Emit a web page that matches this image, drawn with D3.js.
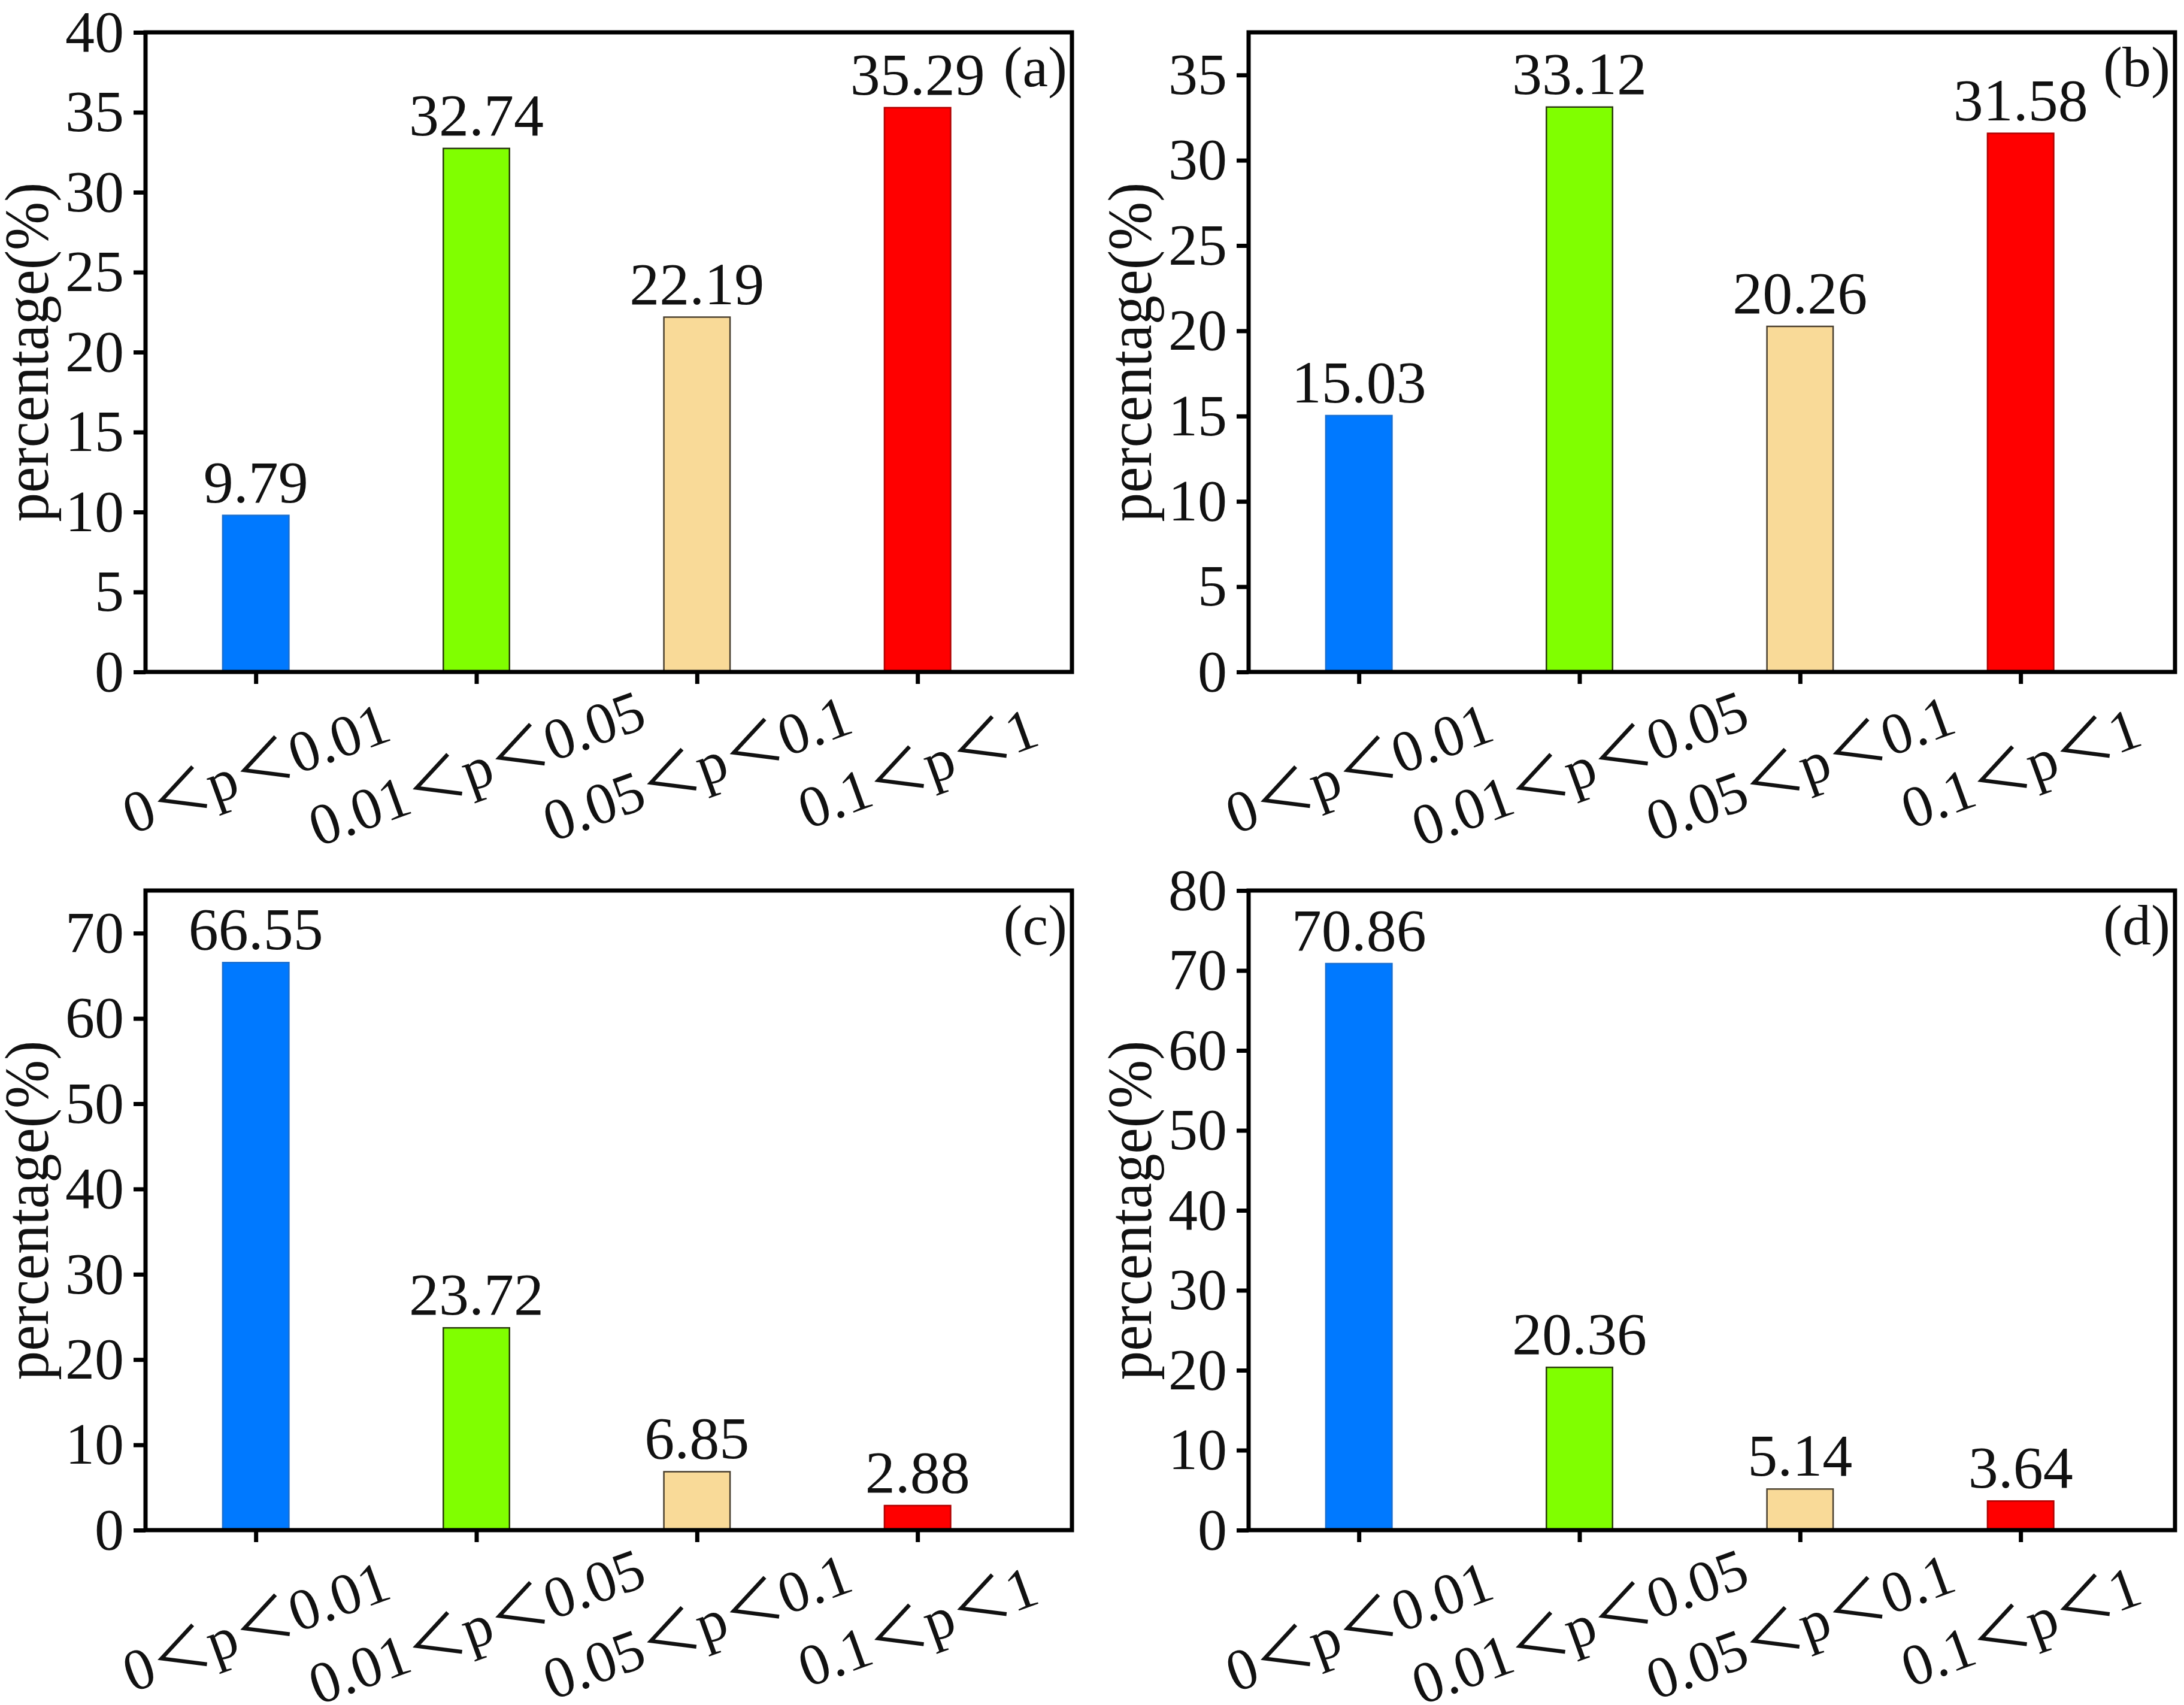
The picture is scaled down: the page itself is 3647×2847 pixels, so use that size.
<!DOCTYPE html>
<html>
<head>
<meta charset="utf-8">
<script src="https://cdn.jsdelivr.net/npm/d3@7"></script>
<style>
  html, body { margin: 0; padding: 0; background: #fff; }
  svg text { font-family: "Liberation Serif", "Noto Sans CJK SC", serif; fill: #111; }
</style>
</head>
<body>
<svg width="3647" height="2847"></svg>
<script>
// categories (p-value classes), one bar each
const categories = ["0＜p＜0.01", "0.01＜p＜0.05", "0.05＜p＜0.1", "0.1＜p＜1"];

// percentage per class for each panel
const valuesA = [9.79, 32.74, 22.19, 35.29];
const valuesB = [15.03, 33.12, 20.26, 31.58];
const valuesC = [66.55, 23.72, 6.85, 2.88];
const valuesD = [70.86, 20.36, 5.14, 3.64];

const panelTags = ["(a)", "(b)", "(c)", "(d)"];
const yMaxes = [40, 37.5, 75, 80];
const yTicksA = [0, 5, 10, 15, 20, 25, 30, 35, 40];
const yTicksB = [0, 5, 10, 15, 20, 25, 30, 35];
const yTicksC = [0, 10, 20, 30, 40, 50, 60, 70];
const yTicksD = [0, 10, 20, 30, 40, 50, 60, 70, 80];

const barColors = ["#0079ff", "#80ff00", "#f9da98", "#ff0000"];
const barStrokes = ["#1a6fd0", "#2a3a10", "#4a4030", "#b00000"];

const svg = d3.select("svg");
svg.append("rect").attr("width", 3647).attr("height", 2847).attr("fill", "#fff");

const plotW = 1547, plotH = 1068;
const panels = [
  {left: 243, top: 54, values: valuesA, ticks: yTicksA},
  {left: 2085, top: 54, values: valuesB, ticks: yTicksB},
  {left: 243, top: 1487, values: valuesC, ticks: yTicksC},
  {left: 2085, top: 1487, values: valuesD, ticks: yTicksD}
];

panels.forEach(function(p, k) {
  const g = svg.append("g").attr("transform", "translate(" + p.left + "," + p.top + ")");

  const x = d3.scaleLinear().domain([0.5, 4.7]).range([0, plotW]);
  const y = d3.scaleLinear().domain([0, yMaxes[k]]).range([plotH, 0]);
  const barW = x(1.3) - x(1);

  // bars
  g.selectAll("rect.bar")
    .data(p.values)
    .enter().append("rect")
    .attr("class", "bar")
    .attr("x", (d, i) => x(i + 1) - barW / 2)
    .attr("y", d => y(d))
    .attr("width", barW)
    .attr("height", d => y(0) - y(d))
    .attr("fill", (d, i) => barColors[i])
    .attr("stroke", (d, i) => barStrokes[i])
    .attr("stroke-width", 2.5);

  // value labels
  g.selectAll("text.val")
    .data(p.values)
    .enter().append("text")
    .attr("class", "val")
    .attr("x", (d, i) => x(i + 1))
    .attr("y", d => y(d) - 22)
    .attr("text-anchor", "middle")
    .style("font-size", "100px")
    .text(d => d3.format(".2f")(d));

  // y axis
  const yAxis = g.append("g")
    .call(d3.axisLeft(y).tickValues(p.ticks).tickSize(20).tickSizeOuter(0).tickPadding(16));
  yAxis.select(".domain").remove();
  yAxis.selectAll("line").attr("stroke", "#000").attr("stroke-width", 7);
  yAxis.selectAll("text").style("font-size", "98px").attr("fill", "#111");

  // x axis
  const xAxis = g.append("g")
    .attr("transform", "translate(0," + plotH + ")")
    .call(d3.axisBottom(x).tickValues([1, 2, 3, 4]).tickSize(20).tickSizeOuter(0)
      .tickFormat(i => categories[i - 1]));
  xAxis.select(".domain").remove();
  xAxis.selectAll("line").attr("stroke", "#000").attr("stroke-width", 7);
  xAxis.selectAll("text")
    .attr("y", null).attr("dy", null)
    .attr("transform", "translate(0,161) rotate(-20)")
    .attr("text-anchor", "middle")
    .attr("dominant-baseline", "central")
    .attr("fill", "#111")
    .style("font-size", "98px");

  // frame
  g.append("rect")
    .attr("width", plotW).attr("height", plotH)
    .attr("fill", "none").attr("stroke", "#000").attr("stroke-width", 7);

  // panel tag
  g.append("text")
    .attr("x", plotW - 8).attr("y", 90)
    .attr("text-anchor", "end")
    .style("font-size", "96px")
    .text(panelTags[k]);

  // y title
  g.append("text")
    .attr("transform", "translate(" + (80 - 243) + "," + (plotH / 2) + ") rotate(-90)")
    .attr("text-anchor", "middle")
    .attr("textLength", 567)
    .attr("lengthAdjust", "spacingAndGlyphs")
    .style("font-size", "104px")
    .text("percentage(%)");
});
</script>
</body>
</html>
